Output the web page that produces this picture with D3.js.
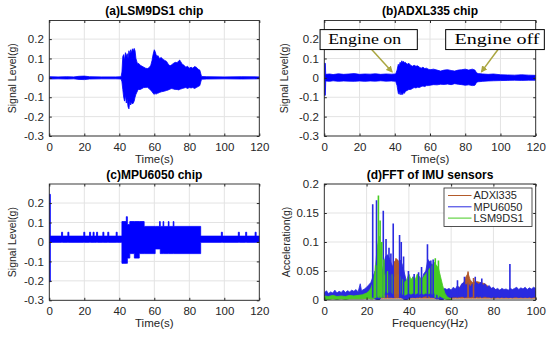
<!DOCTYPE html>
<html>
<head>
<meta charset="utf-8">
<script src="https://cdn.jsdelivr.net/npm/d3@7"></script>
<style>
  body { margin: 0; background: #fff; }
  svg { display: block; font-family: "Liberation Sans", Arial, sans-serif; }
</style>
</head>
<body>
<div id="chart"></div>
<script>
// Tick values
let timeTicks = [0, 20, 40, 60, 80, 100, 120];
let signalTicks = [-0.3, -0.2, -0.1, 0, 0.1, 0.2];
let freqTicks = [0, 20, 40, 60, 80, 100];
let fftTicks = [0, 0.05, 0.1, 0.15, 0.2];

// (a) LSM9DS1 signal envelope
let lsmTime = [0, 5, 10, 14, 17, 20, 23, 30, 38, 41,
  41.5, 42, 42.5, 43, 43.5, 44, 44.5, 45, 45.5, 46,
  46.5, 47, 47.5, 48, 48.5, 49, 49.5, 50, 50.5, 51,
  52, 53, 54, 55, 56, 57, 58, 58.7, 59.3, 60,
  60.5, 61, 61.5, 62, 63, 64, 65, 66, 67, 68,
  69, 70, 71, 72, 73, 74, 74.5, 75, 76, 77,
  78, 79, 80, 81, 82, 83, 84, 85, 86, 86.6,
  87, 90, 100, 110, 120];
let lsmUpper = [0.006, 0.005, 0.006, 0.005, 0.008, 0.009, 0.006, 0.005, 0.005, 0.006,
  0.03, 0.11, 0.12, 0.09, 0.13, 0.11, 0.125, 0.10, 0.14, 0.12,
  0.145, 0.13, 0.15, 0.14, 0.152, 0.14, 0.10, 0.085, 0.07, 0.075,
  0.065, 0.06, 0.055, 0.05, 0.048, 0.052, 0.065, 0.09, 0.12, 0.145,
  0.135, 0.12, 0.11, 0.115, 0.10, 0.105, 0.095, 0.09, 0.085, 0.07,
  0.062, 0.068, 0.075, 0.08, 0.078, 0.088, 0.092, 0.085, 0.07, 0.065,
  0.055, 0.06, 0.05, 0.055, 0.05, 0.058, 0.055, 0.045, 0.04, 0.02,
  0.007, 0.006, 0.005, 0.006, 0.005];
let lsmLower = [-0.006, -0.005, -0.006, -0.005, -0.008, -0.009, -0.006, -0.005, -0.005, -0.006,
  -0.02, -0.06, -0.1, -0.12, -0.09, -0.13, -0.11, -0.15, -0.16, -0.12,
  -0.14, -0.125, -0.135, -0.13, -0.12, -0.1, -0.085, -0.075, -0.065, -0.06,
  -0.06, -0.055, -0.05, -0.05, -0.048, -0.055, -0.065, -0.07, -0.08, -0.085,
  -0.08, -0.085, -0.078, -0.08, -0.075, -0.072, -0.07, -0.068, -0.065, -0.062,
  -0.058, -0.055, -0.058, -0.06, -0.06, -0.062, -0.06, -0.058, -0.055, -0.052,
  -0.05, -0.055, -0.05, -0.052, -0.05, -0.055, -0.05, -0.045, -0.04, -0.02,
  -0.007, -0.006, -0.005, -0.006, -0.005];

// (b) ADXL335 signal envelope
let adxTime = [0, 0.6, 0.8, 3, 5, 8, 11, 14, 17, 20,
  23, 26, 29, 32, 35, 38, 40.5, 41.3, 42, 42.5,
  43, 43.5, 44, 44.5, 45, 45.5, 46, 47, 48, 49,
  50, 51, 52, 53, 54, 55, 56, 57, 58, 59,
  60, 62, 64, 66, 68, 70, 72, 74, 76, 78,
  80, 82, 84, 85.5, 86.5, 87.5, 90, 93, 96, 100,
  104, 108, 112, 116, 120];
let adxUpper = [0.075, 0.075, 0.018, 0.02, 0.017, 0.021, 0.018, 0.02, 0.022, 0.018,
  0.02, 0.019, 0.021, 0.018, 0.02, 0.019, 0.02, 0.04, 0.07, 0.06,
  0.08, 0.075, 0.088, 0.08, 0.085, 0.078, 0.08, 0.07, 0.075, 0.065,
  0.06, 0.065, 0.06, 0.062, 0.055, 0.05, 0.055, 0.048, 0.05, 0.045,
  0.042, 0.045, 0.04, 0.035, 0.04, 0.042, 0.038, 0.035, 0.04, 0.042,
  0.045, 0.04, 0.045, 0.04, 0.025, 0.022, 0.02, 0.018, 0.02, 0.016,
  0.015, 0.014, 0.016, 0.014, 0.013];
let adxLower = [-0.09, -0.09, -0.016, -0.018, -0.015, -0.018, -0.016, -0.017, -0.018, -0.016,
  -0.018, -0.016, -0.017, -0.015, -0.017, -0.016, -0.018, -0.04, -0.08, -0.085,
  -0.07, -0.088, -0.08, -0.086, -0.075, -0.08, -0.07, -0.065, -0.06, -0.06,
  -0.055, -0.05, -0.052, -0.048, -0.05, -0.045, -0.042, -0.045, -0.04, -0.04,
  -0.038, -0.035, -0.036, -0.033, -0.034, -0.032, -0.035, -0.03, -0.033, -0.035,
  -0.038, -0.036, -0.04, -0.038, -0.022, -0.02, -0.018, -0.016, -0.015, -0.014,
  -0.013, -0.012, -0.013, -0.012, -0.012];

// (c) MPU6050 signal envelope (stepped, the chip output is coarse)
let mpuTime = [0, 0.6, 7, 7.6, 10.6, 11.2, 19.7, 20.3, 23, 23.6,
  25, 25.6, 27, 27.6, 30.6, 31.2, 33.4, 34, 38.2, 38.8,
  41.5, 44, 44.6, 46, 48.6, 51.4, 54.2, 60.5, 63, 63.4,
  65, 65.4, 68, 68.4, 70.8, 71.2,
  86.5, 98.3, 98.9, 108, 108.6, 112.2, 112.8, 117.6, 118.2, 120];
let mpuUpper = [0.245, 0.03, 0.05, 0.03, 0.05, 0.03, 0.05, 0.03, 0.05, 0.03,
  0.05, 0.03, 0.05, 0.03, 0.05, 0.03, 0.05, 0.03, 0.05, 0.03,
  0.105, 0.13, 0.09, 0.105, 0.105, 0.105, 0.08, 0.08, 0.105, 0.08,
  0.105, 0.08, 0.105, 0.08, 0.105, 0.08,
  0.03, 0.05, 0.03, 0.05, 0.03, 0.05, 0.03, 0.05, 0.03, 0.03];
let mpuLower = [-0.205, -0.002, -0.002, -0.002, -0.002, -0.002, -0.002, -0.002, -0.002, -0.002,
  -0.002, -0.002, -0.002, -0.002, -0.002, -0.002, -0.002, -0.002, -0.002, -0.002,
  -0.11, -0.11, -0.083, -0.06, -0.083, -0.06, -0.06, -0.036, -0.036, -0.06,
  -0.06, -0.06, -0.06, -0.06, -0.06, -0.06,
  -0.002, -0.002, -0.002, -0.002, -0.002, -0.002, -0.002, -0.002, -0.002, -0.002];

// (d) FFT spectra: band envelopes plus the tall single peaks
let fftAdxFreq = [0, 10, 20, 22, 25, 28, 30, 32, 33, 34, 35, 36, 38, 40, 45, 50, 55, 58,
  60, 62, 64, 66, 67, 68, 69, 70, 72, 74, 76, 78, 80, 84, 88, 92, 96, 100];
let fftAdxUpper = [0.008, 0.009, 0.012, 0.02, 0.03, 0.04, 0.05, 0.055, 0.065, 0.07, 0.068, 0.05, 0.03, 0.025, 0.03, 0.035, 0.02, 0.012,
  0.015, 0.018, 0.022, 0.03, 0.04, 0.046, 0.035, 0.03, 0.032, 0.03, 0.028, 0.022, 0.018, 0.016, 0.015, 0.016, 0.016, 0.015];
let fftAdxLower = [0.003, 0.003, 0.003, 0.003, 0.003, 0.003, 0.003, 0.003, 0.003, 0.003, 0.003, 0.003, 0.003, 0.003, 0.003, 0.003, 0.003, 0.003,
  0.003, 0.003, 0.003, 0.003, 0.003, 0.003, 0.003, 0.003, 0.003, 0.003, 0.003, 0.003, 0.003, 0.003, 0.003, 0.003, 0.003, 0.003];
let fftAdxPeakFreq = [33.4, 33.9, 34.4, 34.9, 68.0, 70.6];
let fftAdxPeakAmp = [0.066, 0.072, 0.07, 0.064, 0.049, 0.038];

let fftMpuFreq = [0, 1, 2, 3, 4, 5, 6, 7, 8, 9, 10, 11, 12, 13, 14, 15, 16, 17, 17.6, 19,
  20, 21, 22, 23, 24, 25, 26, 27, 28, 29, 30, 31, 32, 33, 34, 35, 36, 37, 38, 39,
  40, 41, 42, 43, 44, 45, 46, 47, 48, 49, 50, 51, 52, 53, 54, 55, 56, 57, 58, 59,
  60, 61, 62, 63, 64, 65, 66, 67, 68, 69, 70, 71, 72, 73, 74, 75, 76, 77, 78, 79,
  80, 81, 82, 83, 84, 85, 86, 87, 88, 89, 90, 91, 92, 93, 94, 95, 96, 97, 98, 99, 100];
let fftMpuUpper = [0.012, 0.016, 0.011, 0.014, 0.012, 0.017, 0.012, 0.015, 0.013, 0.017, 0.013, 0.016, 0.014, 0.017, 0.015, 0.018, 0.014, 0.028, 0.016, 0.019,
  0.022, 0.026, 0.03, 0.04, 0.05, 0.04, 0.03, 0.035, 0.06, 0.075, 0.078, 0.07, 0.06, 0.05, 0.052, 0.05, 0.069, 0.06, 0.045, 0.03,
  0.035, 0.03, 0.04, 0.028, 0.035, 0.04, 0.03, 0.045, 0.05, 0.07, 0.065, 0.06, 0.05, 0.025, 0.02, 0.015, 0.018, 0.02, 0.018, 0.02,
  0.017, 0.022, 0.019, 0.025, 0.02, 0.028, 0.03, 0.025, 0.03, 0.022, 0.028, 0.025, 0.03, 0.027, 0.03, 0.025, 0.028, 0.022, 0.025, 0.02,
  0.022, 0.018, 0.02, 0.017, 0.02, 0.018, 0.019, 0.017, 0.02, 0.018, 0.02, 0.022, 0.018, 0.021, 0.019, 0.022, 0.018, 0.021, 0.019, 0.022, 0.02];
let fftMpuLower = [0.003, 0.004, 0.003, 0.004, 0.004, 0.005, 0.004, 0.005, 0.004, 0.005, 0.004, 0.005, 0.005, 0.005, 0.006, 0.006, 0.005, 0.006, 0.006, 0.006,
  0.008, 0.01, 0.006, 0.004, 0.002, 0, 0, 0.005, 0.008, 0.01, 0.01, 0.008, 0.005, 0.004, 0.006, 0.005, 0.005, 0.003, 0, 0,
  0.003, 0.004, 0.005, 0.004, 0.005, 0.006, 0.005, 0.006, 0.007, 0.008, 0.006, 0.005, 0.004, 0.002, 0.002, 0, 0, 0.003, 0.005, 0.005,
  0.004, 0.005, 0.005, 0.006, 0.005, 0.006, 0.006, 0.005, 0.006, 0.005, 0.006, 0.005, 0.006, 0.005, 0.006, 0.005, 0.006, 0.005, 0.005, 0.004,
  0.005, 0.004, 0.005, 0.004, 0.005, 0.004, 0.005, 0.004, 0.005, 0.004, 0.005, 0.005, 0.004, 0.005, 0.004, 0.005, 0.004, 0.005, 0.004, 0.005, 0.005];
let fftMpuPeakFreq = [22.9, 24.7, 27.9, 29.2, 30.6, 31.5, 32.6, 35.6, 36.4, 37.5, 39.8, 42.5, 44.6, 46.0, 48.8, 50.4, 51.5, 63.0, 66.3, 71.4, 74.5, 87.8];
let fftMpuPeakAmp = [0.165, 0.172, 0.154, 0.105, 0.09, 0.08, 0.132, 0.112, 0.1, 0.075, 0.05, 0.045, 0.048, 0.057, 0.096, 0.068, 0.07, 0.034, 0.04, 0.04, 0.037, 0.062];

let fftLsmFreq = [0, 2, 4, 6, 8, 10, 12, 14, 16, 18,
  20, 21, 22, 23, 24, 25, 26, 27, 28, 29, 30, 31, 32, 33, 34, 35, 36, 37, 38, 39,
  40, 41, 42, 43, 44, 45, 46, 47, 48, 49, 50, 51, 52, 53, 54, 55, 56, 57, 58, 59, 60];
let fftLsmUpper = [0.007, 0.006, 0.008, 0.006, 0.007, 0.006, 0.008, 0.007, 0.008, 0.009,
  0.012, 0.015, 0.02, 0.03, 0.05, 0.09, 0.11, 0.06, 0.04, 0.045, 0.05, 0.04, 0.045, 0.038, 0.042, 0.045, 0.04, 0.035, 0.03, 0.035,
  0.045, 0.035, 0.04, 0.035, 0.045, 0.04, 0.035, 0.04, 0.045, 0.05, 0.055, 0.06, 0.065, 0.06, 0.055, 0.04, 0.025, 0.012, 0.006, 0.003, 0.002];
let fftLsmLower = [0.001, 0.001, 0.002, 0.001, 0.002, 0.001, 0.002, 0.002, 0.002, 0.002,
  0.003, 0.003, 0.002, 0.002, 0.004, 0.006, 0.008, 0.006, 0.01, 0.015, 0.012, 0.015, 0.012, 0.01, 0.012, 0.01, 0.012, 0.01, 0.008, 0.01,
  0.012, 0.01, 0.012, 0.01, 0.012, 0.01, 0.012, 0.01, 0.012, 0.01, 0.012, 0.01, 0.012, 0.01, 0.008, 0.006, 0.004, 0.002, 0.001, 0, 0];
let fftLsmPeakFreq = [24.3, 25.6, 26.4, 27.2, 28.2, 52.5, 54.0];
let fftLsmPeakAmp = [0.06, 0.18, 0.137, 0.1, 0.07, 0.072, 0.068];

let legendNames = ["ADXl335", "MPU6050", "LSM9DS1"];
let legendColors = ["#b35a2a", "#2a2ae0", "#46cc22"];

// Annotation labels for panel (b), in data units
let noteText = ["Engine on", "Engine off"];
let noteBoxT = [[-2.4, 52.8], [68.9, 124.9]];
let noteBoxV = [0.249, 0.146];
let noteArrowFrom = [[26.9, 0.146], [98.6, 0.146]];
let noteArrowTo = [[38.4, 0.032], [89.3, 0.032]];

let axisColor = "#262626";
let gridColor = "#e3e3e3";
let signalColor = "#0000ff";

let svg = d3.select("#chart").append("svg")
  .attr("width", 550)
  .attr("height", 337);

let defs = svg.append("defs");
defs.append("marker")
  .attr("id", "arrow")
  .attr("viewBox", "0 0 10 10")
  .attr("refX", 8)
  .attr("refY", 5)
  .attr("markerWidth", 4.5)
  .attr("markerHeight", 4.5)
  .attr("orient", "auto")
  .append("path")
  .attr("d", "M0,0L10,5L0,10z")
  .attr("fill", "#aaa640");

function zip(xs, hi, lo) {
  return xs.map((v, i) => ({ x: v, hi: hi[i], lo: lo[i] }));
}

// Draw one set of axes with grid, box, ticks and labels
function drawPanel(p) {
  let x = d3.scaleLinear().domain(p.xDomain).range([p.left, p.right]);
  let y = d3.scaleLinear().domain(p.yDomain).range([p.bottom, p.top]);
  let g = svg.append("g");

  // grid
  g.append("g").selectAll("line")
    .data(p.xTicks)
    .enter().append("line")
    .attr("x1", d => x(d)).attr("x2", d => x(d))
    .attr("y1", p.top).attr("y2", p.bottom)
    .attr("stroke", gridColor);
  g.append("g").selectAll("line")
    .data(p.yTicks)
    .enter().append("line")
    .attr("x1", p.left).attr("x2", p.right)
    .attr("y1", d => y(d)).attr("y2", d => y(d))
    .attr("stroke", gridColor);

  // data, clipped to the axes
  defs.append("clipPath").attr("id", "clip-" + p.id)
    .append("rect")
    .attr("x", p.left).attr("y", p.top)
    .attr("width", p.right - p.left).attr("height", p.bottom - p.top);
  let plot = g.append("g").attr("clip-path", `url(#clip-${p.id})`);
  p.draw(plot, x, y);

  // axes with inward ticks on all four sides
  let fmt = d => String(d);
  let styleAxis = sel => {
    sel.attr("color", axisColor)
      .attr("font-family", "Liberation Sans, Arial, sans-serif")
      .attr("font-size", 11.5);
    sel.select(".domain").remove();
  };
  g.append("g")
    .attr("transform", `translate(0,${p.bottom})`)
    .call(d3.axisBottom(x).tickValues(p.xTicks).tickFormat(fmt).tickSizeInner(-2.5).tickSizeOuter(0).tickPadding(5))
    .call(styleAxis)
    .selectAll("text").attr("y", 15).attr("dy", 0);
  g.append("g")
    .attr("transform", `translate(${p.left},0)`)
    .call(d3.axisLeft(y).tickValues(p.yTicks).tickFormat(fmt).tickSizeInner(-2.5).tickSizeOuter(0).tickPadding(5.5))
    .call(styleAxis);
  g.append("g")
    .attr("transform", `translate(0,${p.top})`)
    .call(d3.axisTop(x).tickValues(p.xTicks).tickFormat("").tickSizeInner(-2.5).tickSizeOuter(0))
    .call(styleAxis);
  g.append("g")
    .attr("transform", `translate(${p.right},0)`)
    .call(d3.axisRight(y).tickValues(p.yTicks).tickFormat("").tickSizeInner(-2.5).tickSizeOuter(0))
    .call(styleAxis);

  g.append("rect")
    .attr("x", p.left).attr("y", p.top)
    .attr("width", p.right - p.left).attr("height", p.bottom - p.top)
    .attr("fill", "none")
    .attr("stroke", axisColor)
    .attr("stroke-width", 0.9);

  // title and axis labels
  let cx = (p.left + p.right) / 2;
  g.append("text")
    .attr("x", cx).attr("y", p.top - 5.5)
    .attr("text-anchor", "middle")
    .attr("font-size", 12)
    .attr("font-weight", "bold")
    .attr("fill", "#000")
    .text(p.title);
  g.append("text")
    .attr("x", cx).attr("y", p.bottom + 27)
    .attr("text-anchor", "middle")
    .attr("font-size", 11.5)
    .attr("fill", axisColor)
    .text(p.xLabel);
  g.append("text")
    .attr("transform", `translate(${p.yLabelX},${(p.top + p.bottom) / 2}) rotate(-90)`)
    .attr("text-anchor", "middle")
    .attr("dy", "0.35em")
    .attr("font-size", 10.5)
    .attr("fill", axisColor)
    .text(p.yLabel);

  return { x: x, y: y, g: g };
}

// Envelope drawn as a filled band
function band(plot, x, y, data, color, curve) {
  let area = d3.area()
    .x(d => x(d.x))
    .y0(d => y(d.lo))
    .y1(d => y(d.hi))
    .curve(curve || d3.curveLinear);
  plot.append("path")
    .datum(data)
    .attr("d", area)
    .attr("fill", color)
    .attr("stroke", color)
    .attr("stroke-width", 0.8)
    .attr("stroke-linejoin", "round");
}

function peaks(plot, x, y, freq, amp, color) {
  plot.append("g").selectAll("line")
    .data(freq.map((f, i) => ({ f: f, a: amp[i] })))
    .enter().append("line")
    .attr("x1", d => x(d.f)).attr("x2", d => x(d.f))
    .attr("y1", y(0.004)).attr("y2", d => y(d.a))
    .attr("stroke", color)
    .attr("stroke-width", 1.6);
}

// (a)
drawPanel({
  id: "a", left: 49.3, right: 259.3, top: 20.5, bottom: 136,
  xDomain: [0, 120], yDomain: [-0.3, 0.296],
  xTicks: timeTicks, yTicks: signalTicks,
  title: "(a)LSM9DS1 chip", xLabel: "Time(s)", yLabel: "Signal Level(g)", yLabelX: 12.5,
  draw: (plot, x, y) => band(plot, x, y, zip(lsmTime, lsmUpper, lsmLower), signalColor)
});

// (b)
let pb = drawPanel({
  id: "b", left: 324.3, right: 535.7, top: 20.5, bottom: 136,
  xDomain: [0, 120], yDomain: [-0.3, 0.296],
  xTicks: timeTicks, yTicks: signalTicks,
  title: "(b)ADXL335 chip", xLabel: "Time(s)", yLabel: "Signal Level(g)", yLabelX: 284.5,
  draw: (plot, x, y) => band(plot, x, y, zip(adxTime, adxUpper, adxLower), signalColor)
});

// (b) annotations
noteText.forEach((t, i) => {
  let x0 = pb.x(noteBoxT[i][0]), x1 = pb.x(noteBoxT[i][1]);
  let y0 = pb.y(noteBoxV[0]), y1 = pb.y(noteBoxV[1]);
  pb.g.append("line")
    .attr("x1", pb.x(noteArrowFrom[i][0])).attr("y1", pb.y(noteArrowFrom[i][1]))
    .attr("x2", pb.x(noteArrowTo[i][0])).attr("y2", pb.y(noteArrowTo[i][1]))
    .attr("stroke", "#aaa640")
    .attr("stroke-width", 1.5)
    .attr("marker-end", "url(#arrow)");
  pb.g.append("rect")
    .attr("x", x0).attr("y", y0)
    .attr("width", x1 - x0).attr("height", y1 - y0)
    .attr("fill", "#fff")
    .attr("stroke", "#000")
    .attr("stroke-width", 1);
  pb.g.append("text")
    .attr("x", (x0 + x1) / 2 + (i ? 2 : -4)).attr("y", y0 + 14)
    .attr("text-anchor", "middle")
    .attr("font-family", "Liberation Serif, Times New Roman, serif")
    .attr("font-size", 14.5)
    .attr("textLength", i ? 85 : 73)
    .attr("lengthAdjust", "spacingAndGlyphs")
    .attr("fill", "#000")
    .text(t);
});

// (c)
drawPanel({
  id: "c", left: 49.3, right: 259.3, top: 184, bottom: 300.3,
  xDomain: [0, 120], yDomain: [-0.3, 0.298],
  xTicks: timeTicks, yTicks: signalTicks,
  title: "(c)MPU6050 chip", xLabel: "Time(s)", yLabel: "Signal Level(g)", yLabelX: 12.5,
  draw: (plot, x, y) => band(plot, x, y, zip(mpuTime, mpuUpper, mpuLower), signalColor, d3.curveStepAfter)
});

// (d)
let pd = drawPanel({
  id: "d", left: 324.3, right: 535.7, top: 184, bottom: 300,
  xDomain: [0, 100], yDomain: [0, 0.2],
  xTicks: freqTicks, yTicks: fftTicks,
  title: "(d)FFT of IMU sensors", xLabel: "Frequency(Hz)", yLabel: "Acceleration(g)", yLabelX: 286,
  draw: (plot, x, y) => {
    band(plot, x, y, zip(fftAdxFreq, fftAdxUpper, fftAdxLower), legendColors[0]);
    band(plot, x, y, zip(fftMpuFreq, fftMpuUpper, fftMpuLower), legendColors[1]);
    band(plot, x, y, zip(fftLsmFreq, fftLsmUpper, fftLsmLower), legendColors[2]);
    peaks(plot, x, y, fftMpuPeakFreq, fftMpuPeakAmp, legendColors[1]);
    peaks(plot, x, y, fftAdxPeakFreq, fftAdxPeakAmp, legendColors[0]);
    peaks(plot, x, y, fftLsmPeakFreq, fftLsmPeakAmp, legendColors[2]);
  }
});

// (d) legend
let legend = pd.g.append("g").attr("transform", "translate(444,188)");
legend.append("rect")
  .attr("width", 88).attr("height", 38.5)
  .attr("fill", "#fff")
  .attr("stroke", axisColor)
  .attr("stroke-width", 0.8);
let rows = legend.selectAll(".row")
  .data(legendNames)
  .enter().append("g")
  .attr("transform", (d, i) => `translate(0,${7.5 + i * 11.3})`);
rows.append("line")
  .attr("x1", 4).attr("x2", 27.5)
  .attr("stroke", (d, i) => legendColors[i])
  .attr("stroke-width", 1);
rows.append("text")
  .attr("x", 29.5).attr("dy", "0.36em")
  .attr("font-size", 11)
  .attr("fill", axisColor)
  .text(d => d);
</script>
</body>
</html>
